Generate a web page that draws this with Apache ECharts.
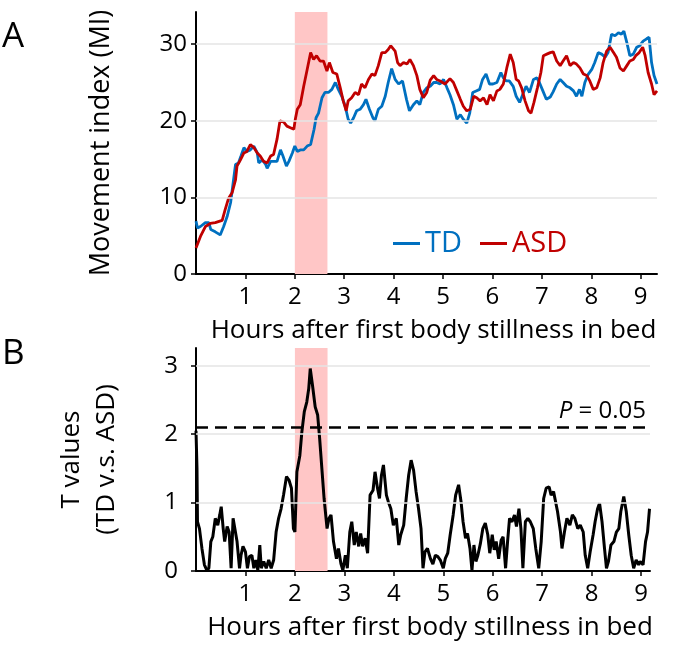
<!DOCTYPE html>
<html><head><meta charset="utf-8">
<script src="https://cdn.jsdelivr.net/npm/echarts@6/dist/echarts.min.js"></script>
<style>html,body{margin:0;padding:0;background:#fff}#c{width:685px;height:651px}</style>
</head><body><div id="c"></div>
<script>
// ---- Panel A: movement index ----
const tdHours = [0,0.03,0.09,0.19,0.26,0.3,0.39,0.49,0.56,0.63,0.7,0.76,0.8,0.86,0.91,0.97,1.03,1.1,1.17,1.24,1.27,1.34,1.41,1.44,1.51,1.57,1.64,1.71,1.76,1.83,1.88,1.95,2.0,2.05,2.11,2.18,2.25,2.32,2.34,2.39,2.43,2.48,2.55,2.61,2.68,2.75,2.82,2.88,2.95,3.02,3.08,3.13,3.19,3.25,3.32,3.39,3.44,3.51,3.58,3.62,3.69,3.76,3.83,3.89,3.96,4.03,4.1,4.18,4.26,4.32,4.4,4.47,4.53,4.6,4.67,4.74,4.81,4.87,4.94,5.01,5.08,5.14,5.21,5.28,5.35,5.41,5.48,5.54,5.6,5.67,5.74,5.8,5.87,5.94,6.01,6.09,6.17,6.22,6.28,6.34,6.42,6.48,6.55,6.61,6.68,6.75,6.83,6.9,6.95,7.02,7.09,7.17,7.23,7.3,7.37,7.43,7.5,7.57,7.64,7.7,7.76,7.81,7.87,7.94,8.01,8.07,8.14,8.21,8.28,8.34,8.41,8.48,8.55,8.61,8.66,8.72,8.78,8.85,8.92,8.98,9.05,9.12,9.17,9.22,9.27,9.33];
const tdValues = [6.9,6.0,6.2,6.7,6.7,5.8,5.5,5.1,6.2,7.5,9.3,12.3,14.3,14.5,15.4,16.5,16.0,16.2,16.7,15.8,14.5,14.9,14.3,13.8,14.7,14.7,14.7,16.2,15.4,14.1,14.7,15.8,16.7,16.0,16.2,16.2,16.7,16.9,17.1,18.9,20.4,21.0,23.0,23.7,23.7,24.1,25.0,24.1,23.2,21.9,20.2,19.7,20.4,21.3,21.5,22.1,22.8,21.5,20.4,20.0,21.5,21.9,23.2,25.0,26.8,25.4,24.8,25.2,22.8,21.3,22.1,22.6,22.1,23.7,24.3,24.5,25.0,25.0,24.8,25.4,24.3,23.4,22.1,20.2,20.8,20.2,19.7,21.0,23.7,23.9,24.1,25.4,26.1,24.8,24.8,25.0,26.3,25.6,25.2,25.2,24.5,23.2,22.4,23.4,24.5,23.7,25.4,25.6,25.0,23.9,22.8,23.1,23.8,24.8,25.4,25.0,24.5,24.3,23.9,23.2,24.1,23.2,25.0,26.1,26.7,27.6,28.9,28.7,28.3,28.9,31.3,31.1,31.5,31.3,31.7,30.2,28.5,28.7,29.6,29.8,30.4,30.7,30.9,27.6,25.9,24.8];
const asdHours = [0,0.09,0.19,0.29,0.39,0.53,0.59,0.66,0.73,0.8,0.83,0.9,0.97,1.03,1.1,1.17,1.24,1.3,1.37,1.44,1.51,1.57,1.64,1.7,1.78,1.84,1.91,1.98,2.01,2.05,2.11,2.18,2.25,2.32,2.38,2.44,2.51,2.58,2.65,2.7,2.77,2.85,2.92,2.98,3.04,3.08,3.15,3.22,3.29,3.35,3.42,3.49,3.56,3.62,3.69,3.76,3.83,3.89,3.94,4.03,4.08,4.13,4.2,4.27,4.33,4.4,4.47,4.53,4.6,4.67,4.74,4.81,4.87,4.94,5.04,5.14,5.21,5.28,5.35,5.41,5.48,5.55,5.62,5.68,5.75,5.82,5.89,5.95,6.02,6.09,6.15,6.22,6.29,6.36,6.42,6.48,6.53,6.59,6.66,6.73,6.78,6.84,6.91,6.98,7.03,7.1,7.17,7.23,7.3,7.37,7.43,7.5,7.57,7.64,7.7,7.77,7.84,7.91,7.97,8.04,8.11,8.18,8.24,8.31,8.38,8.45,8.51,8.58,8.65,8.72,8.78,8.85,8.9,8.97,9.04,9.09,9.15,9.22,9.27,9.31,9.33];
const asdValues = [3.4,4.9,6.2,6.6,6.7,7.0,8.4,9.9,10.6,12.3,14.1,14.9,15.8,16.0,16.9,16.5,15.8,15.4,14.7,14.5,15.4,15.6,17.6,20.0,19.8,19.3,19.1,18.9,20.2,21.5,22.1,24.5,26.7,28.9,28.0,28.5,27.8,27.8,26.5,27.6,26.3,26.1,24.3,22.6,21.3,22.6,23.0,23.7,23.4,24.8,24.3,25.4,26.1,25.9,27.2,28.9,28.9,29.3,29.8,29.1,27.6,27.2,27.6,27.4,28.0,27.2,25.9,24.1,23.0,23.7,25.3,25.9,25.4,25.2,24.8,25.5,25.0,23.9,22.8,21.9,21.3,21.5,23.2,23.0,22.6,23.0,22.1,23.4,22.6,23.9,24.1,24.8,26.9,28.7,27.6,25.4,25.2,24.3,22.6,21.3,21.0,22.4,24.3,26.3,28.5,28.7,28.9,29.0,27.8,27.2,27.8,28.5,27.2,27.6,27.4,26.9,26.1,25.9,25.2,24.1,24.3,25.6,27.6,29.1,29.6,28.9,28.3,26.9,26.5,27.2,27.8,28.0,28.5,28.9,29.6,28.5,26.3,24.8,23.4,23.2,23.9];

// ---- Panel B: T values ----
const tHours = [0,0.02,0.03,0.07,0.12,0.17,0.22,0.26,0.3,0.34,0.39,0.44,0.48,0.51,0.55,0.58,0.63,0.67,0.71,0.75,0.78,0.83,0.88,0.91,0.95,1.0,1.04,1.08,1.13,1.17,1.21,1.25,1.29,1.32,1.37,1.42,1.47,1.52,1.57,1.62,1.67,1.72,1.77,1.83,1.88,1.93,1.97,2.0,2.04,2.1,2.14,2.19,2.24,2.28,2.31,2.36,2.41,2.46,2.5,2.55,2.59,2.65,2.69,2.73,2.78,2.84,2.88,2.93,2.97,3.02,3.06,3.11,3.15,3.2,3.24,3.29,3.33,3.37,3.42,3.47,3.52,3.58,3.62,3.67,3.71,3.75,3.79,3.85,3.89,3.94,3.99,4.05,4.1,4.14,4.2,4.25,4.3,4.35,4.4,4.45,4.5,4.55,4.59,4.63,4.68,4.74,4.79,4.84,4.89,4.94,5.0,5.04,5.09,5.14,5.2,5.25,5.31,5.36,5.4,5.45,5.49,5.54,5.58,5.62,5.66,5.7,5.75,5.8,5.85,5.9,5.94,5.99,6.03,6.07,6.12,6.17,6.21,6.26,6.3,6.34,6.39,6.44,6.48,6.53,6.57,6.61,6.66,6.71,6.76,6.82,6.87,6.93,6.98,7.03,7.08,7.14,7.18,7.23,7.27,7.31,7.37,7.4,7.45,7.5,7.56,7.61,7.66,7.72,7.77,7.83,7.87,7.92,7.97,8.03,8.07,8.12,8.16,8.21,8.26,8.3,8.34,8.39,8.45,8.5,8.55,8.59,8.65,8.7,8.75,8.8,8.85,8.9,8.95,8.98,9.04,9.09,9.13,9.17];
const tValues = [2.05,1.5,0.72,0.62,0.33,0.09,0.01,0.04,0.43,0.5,0.77,0.67,0.82,0.94,0.62,0.43,0.65,0.57,0.04,0.77,0.79,0.43,0.04,0.23,0.36,0.28,0.04,0.21,0.23,0.04,0.16,0.01,0.38,0.04,0.14,0.04,0.16,0.04,0.16,0.57,0.77,0.91,1.11,1.38,1.33,1.21,0.62,0.57,1.45,1.69,2.03,2.33,2.47,2.67,2.96,2.69,2.40,2.28,1.94,1.45,1.06,0.62,0.77,0.82,0.43,0.18,0.33,0.11,0.01,0.23,0.04,0.57,0.72,0.38,0.57,0.36,0.55,0.36,0.48,0.26,1.11,1.18,1.45,1.21,1.06,1.40,1.55,1.11,1.01,0.91,0.67,0.77,0.38,0.53,0.67,1.06,1.40,1.62,1.47,1.16,0.91,0.62,0.04,0.28,0.33,0.18,0.1,0.23,0.21,0.16,0.04,0.18,0.26,0.53,0.82,1.11,1.26,1.01,0.72,0.48,0.55,0.33,0.01,0.38,0.14,0.23,0.40,0.62,0.70,0.53,0.26,0.53,0.31,0.43,0.18,0.45,0.50,0.04,0.43,0.77,0.72,0.82,0.65,0.91,0.62,0.04,0.72,0.77,0.72,0.62,0.33,0.04,0.43,1.06,1.21,1.23,1.11,1.16,1.16,0.87,0.57,0.33,0.57,0.77,0.67,0.82,0.77,0.62,0.67,0.57,0.23,0.04,0.28,0.53,0.72,0.91,0.99,0.72,0.33,0.04,0.14,0.38,0.43,0.57,0.62,0.87,1.09,0.87,0.53,0.23,0.04,0.16,0.09,0.14,0.09,0.43,0.57,0.91];

// ticks, band, threshold
const hourTicks = [1,2,3,4,5,6,7,8,9];
const miTicks = [0,10,20,30];
const miGrid = [10,20,30];
const tTicks = [0,1,2,3];
const tGrid = [1,2,3];
const bandRange = [2.0, 2.66];
const pThreshold = 2.1;

const FONT = '"Open Sans", "Noto Sans", sans-serif';
const pair = (xs, ys) => xs.map((x, i) => [x, ys[i]]);
const gridLineStyle = {color: '#E4E4E4', width: 1.5, type: 'solid'};

function xAxisCfg(idx, max) {
  return {
    type: 'value', gridIndex: idx, min: 0, max: max,
    axisLine: {show: true, onZero: false, lineStyle: {color: '#000', width: 2}},
    axisTick: {show: true, customValues: hourTicks, length: 5, lineStyle: {color: '#000', width: 1.5}},
    axisLabel: {customValues: hourTicks, color: '#000', fontSize: 24, fontFamily: FONT, margin: 11},
    splitLine: {show: false},
    name: 'Hours after first body stillness in bed',
    nameLocation: 'middle', nameGap: 44,
    nameTextStyle: {color: '#000', fontSize: 26, fontFamily: FONT, padding: [0, 0, 0, 14]}
  };
}

const option = {
  animation: false,
  backgroundColor: '#fff',
  grid: [
    {left: 196, right: 28, top: 12, bottom: 377},
    {left: 196, right: 35, top: 348, bottom: 80}
  ],
  xAxis: [xAxisCfg(0, 9.33), xAxisCfg(1, 9.18)],
  yAxis: [
    {
      type: 'value', gridIndex: 0, min: 0, max: 34.2,
      axisLine: {show: true, lineStyle: {color: '#000', width: 2}},
      axisTick: {show: true, customValues: miTicks, length: 5, lineStyle: {color: '#000', width: 1.5}},
      axisLabel: {customValues: miTicks, color: '#000', fontSize: 24, fontFamily: FONT, margin: 9},
      splitLine: {show: false},
      name: 'Movement index (MI)', nameLocation: 'middle', nameGap: 81, nameRotate: 90,
      nameTextStyle: {color: '#000', fontSize: 27, fontFamily: FONT}
    },
    {
      type: 'value', gridIndex: 1, min: 0, max: 3.26,
      axisLine: {show: true, lineStyle: {color: '#000', width: 2}},
      axisTick: {show: true, customValues: tTicks, length: 5, lineStyle: {color: '#000', width: 1.5}},
      axisLabel: {customValues: tTicks, color: '#000', fontSize: 24, fontFamily: FONT, margin: 18},
      splitLine: {show: false},
      name: 'T values\n(TD v.s. ASD)', nameLocation: 'middle', nameGap: 72, nameRotate: 90,
      nameTextStyle: {color: '#000', fontSize: 26, fontFamily: FONT, lineHeight: 35}
    }
  ],
  legend: {
    left: 388, top: 224, icon: 'rect', itemWidth: 27, itemHeight: 3, itemGap: 18,
    textStyle: {fontSize: 29, fontFamily: FONT},
    data: [
      {name: 'TD', textStyle: {color: '#0070C0'}},
      {name: 'ASD', textStyle: {color: '#C00000'}}
    ]
  },
  graphic: [
    {type: 'text', left: 2, top: 20, style: {text: 'A', fontSize: 35, fontFamily: FONT, fill: '#000'}},
    {type: 'text', left: 2, top: 337, style: {text: 'B', fontSize: 35, fontFamily: FONT, fill: '#000'}}
  ],
  series: [
    {
      name: 'bgA', type: 'line', xAxisIndex: 0, yAxisIndex: 0, data: [], z: 1, silent: true,
      markArea: {silent: true, itemStyle: {color: '#FFC6C6'}, data: [[{xAxis: bandRange[0]}, {xAxis: bandRange[1]}]]},
      markLine: {silent: true, symbol: 'none', label: {show: false}, lineStyle: gridLineStyle,
        data: miGrid.map(v => ({yAxis: v}))}
    },
    {
      name: 'TD', type: 'line', xAxisIndex: 0, yAxisIndex: 0, data: pair(tdHours, tdValues),
      showSymbol: false, symbol: 'none', z: 3, color: '#0070C0', lineStyle: {color: '#0070C0', width: 2.8}
    },
    {
      name: 'ASD', type: 'line', xAxisIndex: 0, yAxisIndex: 0, data: pair(asdHours, asdValues),
      showSymbol: false, symbol: 'none', z: 4, color: '#C00000', lineStyle: {color: '#C00000', width: 2.8}
    },
    {
      name: 'bgB', type: 'line', xAxisIndex: 1, yAxisIndex: 1, data: [], z: 1, silent: true,
      markArea: {silent: true, itemStyle: {color: '#FFC6C6'}, data: [[{xAxis: bandRange[0]}, {xAxis: bandRange[1]}]]},
      markLine: {silent: true, symbol: 'none', label: {show: false}, lineStyle: gridLineStyle,
        data: tGrid.map(v => ({yAxis: v}))}
    },
    {
      name: 'T', type: 'line', xAxisIndex: 1, yAxisIndex: 1, data: pair(tHours, tValues),
      showSymbol: false, symbol: 'none', z: 3, color: '#000', lineStyle: {color: '#000', width: 3},
      markLine: {
        silent: true, symbol: 'none',
        lineStyle: {color: '#000', width: 2.5, type: [12, 7]},
        label: {
          show: true, position: 'insideEndTop', distance: 4,
          formatter: '{i|P} = 0.05',
          color: '#000', fontSize: 24, fontFamily: FONT,
          rich: {i: {fontStyle: 'italic', fontSize: 24, fontFamily: FONT, color: '#000'}}
        },
        data: [{yAxis: pThreshold}]
      }
    }
  ]
};

const chart = echarts.init(document.getElementById('c'), null, {renderer: 'canvas'});
chart.setOption(option);
</script>
</body></html>
